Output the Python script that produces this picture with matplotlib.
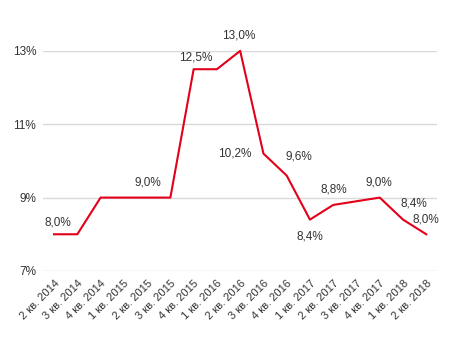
import numpy as np
import matplotlib
matplotlib.use("Agg")
import matplotlib.pyplot as plt

plt.rcParams["font.family"] = ["Liberation Sans", "DejaVu Sans"]

quarters = ["2 кв. 2014", "3 кв. 2014", "4 кв. 2014", "1 кв. 2015", "2 кв. 2015",
            "3 кв. 2015", "4 кв. 2015", "1 кв. 2016", "2 кв. 2016", "3 кв. 2016",
            "4 кв. 2016", "1 кв. 2017", "2 кв. 2017", "3 кв. 2017", "4 кв. 2017",
            "1 кв. 2018", "2 кв. 2018"]
rate = [8.0, 8.0, 9.0, 9.0, 9.0, 9.0, 12.5, 12.5, 13.0, 10.2, 9.6, 8.4, 8.8, 8.9, 9.0, 8.4, 8.0]

# which points carry a value label, and where it sits (pixel offset)
label_idx = [0, 4, 6, 8, 9, 10, 11, 12, 14, 15, 16]
label_off = {0: (4, 12), 4: (1, 15), 6: (2, 12), 8: (-1, 15), 9: (-29, 0),
             10: (12, 19), 11: (0, -17), 12: (1, 15), 14: (-1, 15), 15: (11, 16),
             16: (0, 15)}

fig = plt.figure(figsize=(4.54, 3.37), dpi=100)
ax = fig.add_axes([0.095, 0.196, 0.868, 0.653])
x = np.arange(len(quarters))
ax.plot(x, rate, color="#e2001a", lw=1.5, clip_on=False, zorder=3)

for i in label_idx:
    dx, dy = label_off[i]
    ax.annotate(f"{rate[i]:.1f}%".replace(".", ","), (x[i], rate[i]),
                xytext=(dx, dy), textcoords="offset pixels",
                ha="center", va="center", fontsize=8.5, color="#333333")

ax.set_ylim(7, 13)
ax.set_xlim(-0.47, len(quarters) - 0.53)
ax.set_yticks([7, 9, 11, 13])
ax.set_yticklabels(["7%", "9%", "11%", "13%"], fontsize=8.5, color="#333333")
ax.set_xticks(x)
ax.set_xticklabels(quarters, rotation=45, ha="right", rotation_mode="anchor",
                   fontsize=8, color="#333333")
ax.tick_params(length=0, pad=5)
ax.yaxis.grid(True, color="#d9d9d9", lw=1)
ax.set_axisbelow(True)
for s in ax.spines.values():
    s.set_visible(False)

fig.savefig("out.png", dpi=100)
